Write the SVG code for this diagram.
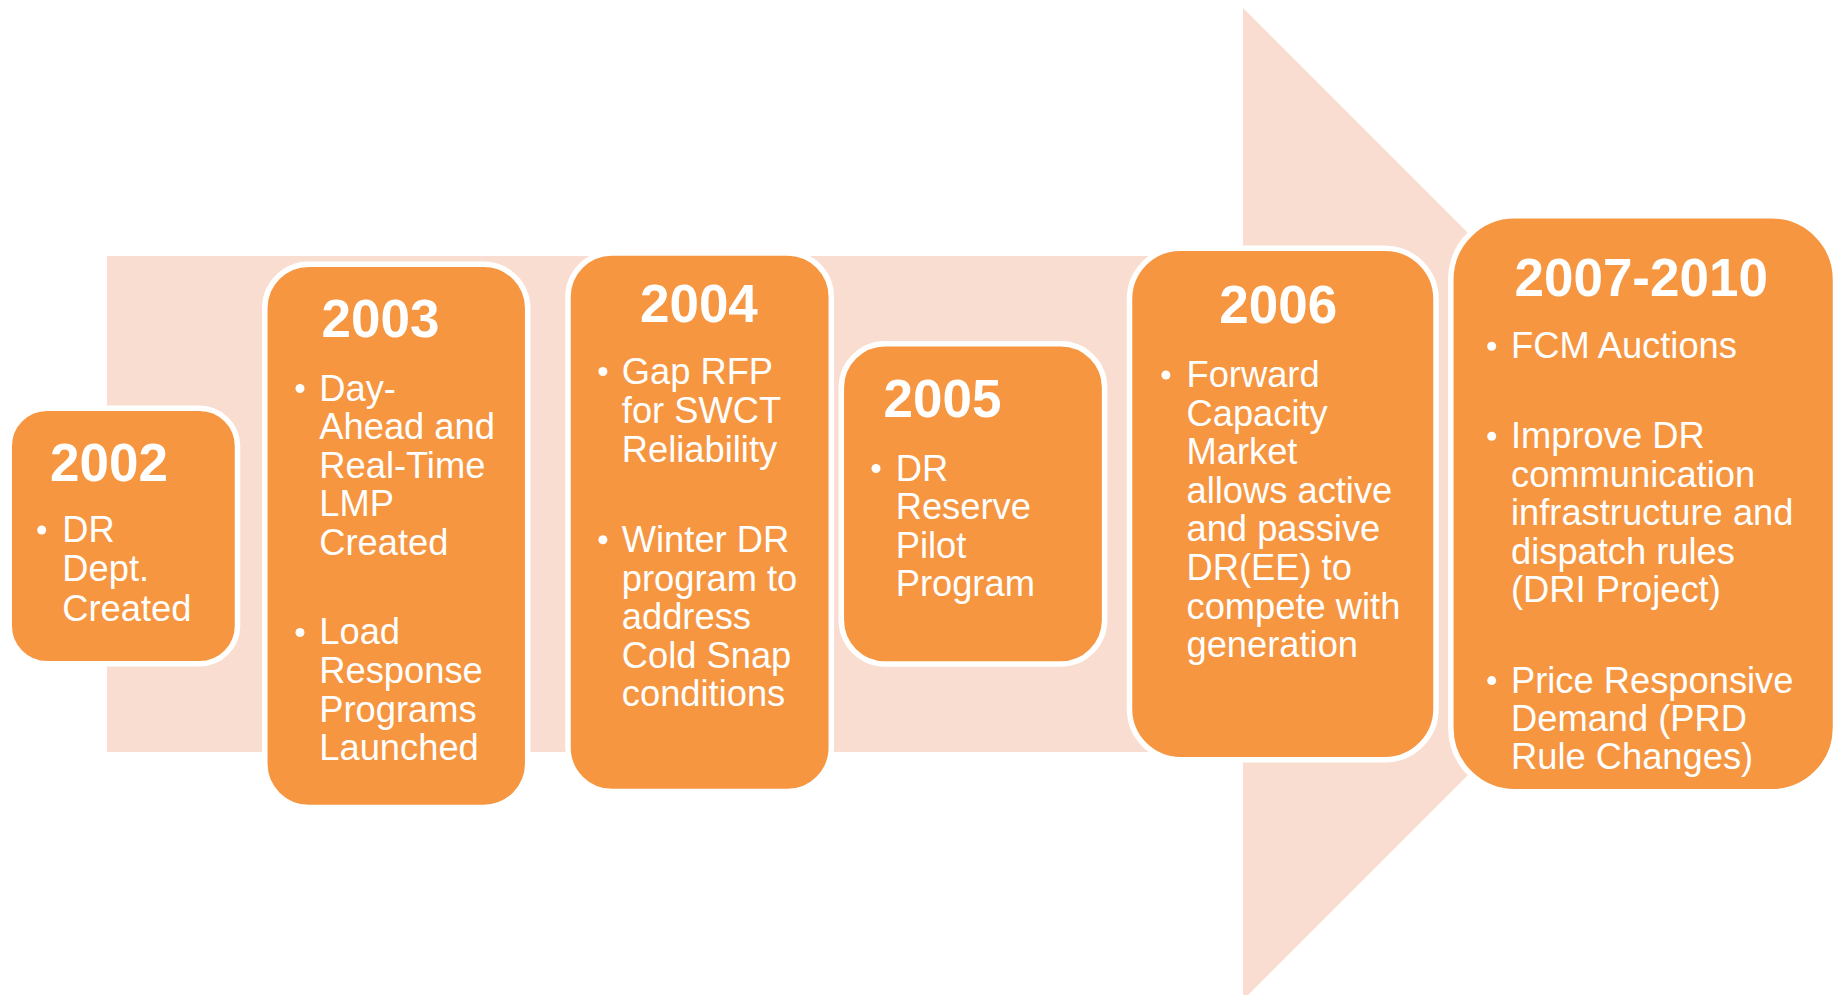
<svg xmlns="http://www.w3.org/2000/svg" width="1839" height="995" viewBox="0 0 1839 995">
  <style>
    .box { fill: #F69641; stroke: #FFFFFF; stroke-width: 5.5; }
    .yr { font-family: "Liberation Sans", Arial, sans-serif; font-weight: bold; font-size: 53px; fill: #FFFFFF; text-anchor: middle; }
    .tx { font-family: "Liberation Sans", Arial, sans-serif; font-size: 36.3px; fill: #FFFFFF; }
    .bul { fill: #FFFFFF; }
  </style>
  <rect x="0" y="0" width="1839" height="995" fill="#FFFFFF"/>
  <g id="timeline-arrow">
    <rect x="107" y="256" width="1137" height="496" fill="#FADDD1"/>
    <polygon points="1243,8 1739,504 1243,1000" fill="#FADDD1"/>
  </g>
  <g id="connectors"></g>

  <g id="node-2002">
    <rect class="box" x="9.2" y="408.2" width="228.3" height="255.5" rx="38" ry="38"/>
    <text class="yr" x="109" y="480.7">2002</text>
    <circle class="bul" cx="41.7" cy="530" r="4.5"/>
    <text class="tx" x="62.3" y="542">DR</text>
    <text class="tx" x="62.3" y="581">Dept.</text>
    <text class="tx" x="62.3" y="620.5">Created</text>
  </g>

  <g id="node-2003">
    <rect class="box" x="264.8" y="264.2" width="262.9" height="543.3" rx="44" ry="44"/>
    <text class="yr" x="380.5" y="337.3">2003</text>
    <circle class="bul" cx="300" cy="388.5" r="4.5"/>
    <text class="tx" x="319.3" y="400.7">Day-</text>
    <text class="tx" x="319.3" y="439.2">Ahead and</text>
    <text class="tx" x="319.3" y="477.7">Real-Time</text>
    <text class="tx" x="319.3" y="516.2">LMP</text>
    <text class="tx" x="319.3" y="554.7">Created</text>
    <circle class="bul" cx="300" cy="632.5" r="4.5"/>
    <text class="tx" x="319.3" y="644.3">Load</text>
    <text class="tx" x="319.3" y="683">Response</text>
    <text class="tx" x="319.3" y="721.5">Programs</text>
    <text class="tx" x="319.3" y="760">Launched</text>
  </g>

  <g id="node-2004">
    <rect class="box" x="568" y="253" width="263.3" height="538.5" rx="44" ry="44"/>
    <text class="yr" x="698.9" y="321.5">2004</text>
    <circle class="bul" cx="602.9" cy="371.5" r="4.5"/>
    <text class="tx" x="621.8" y="383.7">Gap RFP</text>
    <text class="tx" x="621.8" y="422.5">for SWCT</text>
    <text class="tx" x="621.8" y="461.5">Reliability</text>
    <circle class="bul" cx="602.9" cy="539.7" r="4.5"/>
    <text class="tx" x="621.8" y="551.9">Winter DR</text>
    <text class="tx" x="621.8" y="590.5">program to</text>
    <text class="tx" x="621.8" y="629">address</text>
    <text class="tx" x="621.8" y="667.6">Cold Snap</text>
    <text class="tx" x="621.8" y="706">conditions</text>
  </g>

  <g id="node-2005">
    <rect class="box" x="841.3" y="343.7" width="263.3" height="320.3" rx="44" ry="44"/>
    <text class="yr" x="942.5" y="417">2005</text>
    <circle class="bul" cx="876" cy="468.5" r="4.5"/>
    <text class="tx" x="895.7" y="480.7">DR</text>
    <text class="tx" x="895.7" y="519.2">Reserve</text>
    <text class="tx" x="895.7" y="557.7">Pilot</text>
    <text class="tx" x="895.7" y="596.2">Program</text>
  </g>

  <g id="node-2006">
    <rect class="box" x="1129.5" y="248.2" width="306.5" height="511.5" rx="51" ry="51"/>
    <text class="yr" x="1278.3" y="323.4">2006</text>
    <circle class="bul" cx="1165.9" cy="375" r="4.5"/>
    <text class="tx" x="1186.5" y="387">Forward</text>
    <text class="tx" x="1186.5" y="425.6">Capacity</text>
    <text class="tx" x="1186.5" y="464.2">Market</text>
    <text class="tx" x="1186.5" y="502.8">allows active</text>
    <text class="tx" x="1186.5" y="541.4">and passive</text>
    <text class="tx" x="1186.5" y="580">DR(EE) to</text>
    <text class="tx" x="1186.5" y="618.6">compete with</text>
    <text class="tx" x="1186.5" y="657.2">generation</text>
  </g>

  <g id="node-2007-2010">
    <rect class="box" x="1450.8" y="215.8" width="384.7" height="576" rx="64" ry="64"/>
    <text class="yr" x="1641.2" y="296">2007-2010</text>
    <circle class="bul" cx="1491.7" cy="346.2" r="4.5"/>
    <text class="tx" x="1511" y="358.3">FCM Auctions</text>
    <circle class="bul" cx="1491.7" cy="436.2" r="4.5"/>
    <text class="tx" x="1511" y="448.3">Improve DR</text>
    <text class="tx" x="1511" y="486.7">communication</text>
    <text class="tx" x="1511" y="525">infrastructure and</text>
    <text class="tx" x="1511" y="563.5">dispatch rules</text>
    <text class="tx" x="1511" y="602.3">(DRI Project)</text>
    <circle class="bul" cx="1491.7" cy="680.6" r="4.5"/>
    <text class="tx" x="1511" y="692.7">Price Responsive</text>
    <text class="tx" x="1511" y="731">Demand (PRD</text>
    <text class="tx" x="1511" y="769.3">Rule Changes)</text>
  </g>
</svg>
